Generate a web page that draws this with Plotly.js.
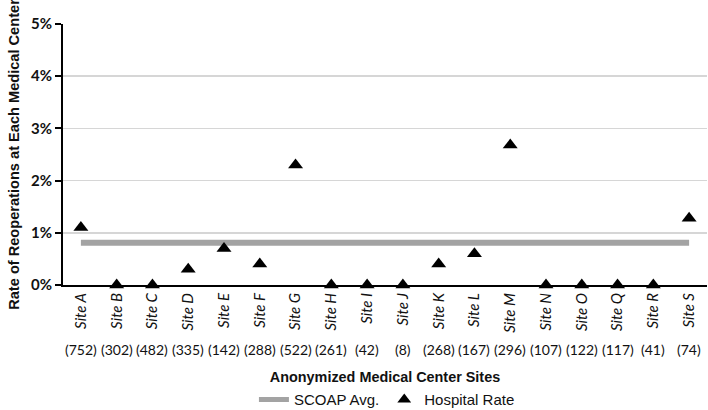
<!DOCTYPE html>
<html>
<head>
<meta charset="utf-8">
<script src="https://cdn.plot.ly/plotly-3.0.1.min.js"></script>
<style>html,body{margin:0;padding:0;background:#fff;}#chart{width:708px;height:410px;}</style>
</head>
<body>
<div id="chart"></div>
<script>
const sites = ["Site A","Site B","Site C","Site D","Site E","Site F","Site G","Site H","Site I","Site J","Site K","Site L","Site M","Site N","Site O","Site Q","Site R","Site S"];
const counts = ["(752)","(302)","(482)","(335)","(142)","(288)","(522)","(261)","(42)","(8)","(268)","(167)","(296)","(107)","(122)","(117)","(41)","(74)"];
const hospitalRate = [1.1, 0, 0, 0.3, 0.7, 0.4, 2.3, 0, 0, 0, 0.4, 0.6, 2.68, 0, 0, 0, 0, 1.28];
const scoapAvg = 0.81;
const yTicks = [0, 1, 2, 3, 4, 5];

const avgTrace = {
  x: sites,
  y: sites.map(() => scoapAvg),
  type: 'scatter',
  mode: 'lines',
  name: 'SCOAP Avg.',
  line: {color: '#a3a3a3', width: 6},
  hoverinfo: 'skip'
};
const rateTrace = {
  x: sites,
  y: hospitalRate,
  type: 'scatter',
  mode: 'markers',
  name: 'Hospital Rate',
  marker: {symbol: 'triangle-up', size: 13, color: '#000'},
  cliponaxis: false
};

const annotations = sites.map((s, i) => ({
  x: s, xref: 'x', y: -0.248, yref: 'paper',
  text: counts[i], showarrow: false,
  xanchor: 'center', yanchor: 'middle',
  font: {family: 'Lato, Carlito, sans-serif', size: 14, color: '#111'}
}));

const layout = {
  width: 708, height: 410,
  margin: {l: 63, r: 1, t: 24, b: 125, autoexpand: false},
  paper_bgcolor: '#fff', plot_bgcolor: '#fff',
  showlegend: true,
  legend: {
    orientation: 'h', x: 0.503, xanchor: 'center', y: -0.44, yanchor: 'middle',
    font: {family: 'Liberation Sans, Arial, sans-serif', size: 15, color: '#111'},
    itemwidth: 30, traceorder: 'normal', itemsizing: 'constant'
  },
  xaxis: {
    type: 'category',
    range: [-0.5, 17.5],
    showline: true, linecolor: '#000', linewidth: 2,
    showgrid: false, ticks: '', tickangle: -90,
    tickfont: {family: 'Lato, Carlito, sans-serif', size: 15, style: 'italic', color: '#111'},
    title: {text: 'Anonymized Medical Center Sites', standoff: 40,
      font: {family: 'Liberation Sans, Arial, sans-serif', size: 14.4, weight: 'bold', color: '#111'}},
    zeroline: false, fixedrange: true, automargin: false
  },
  yaxis: {
    range: [0, 5],
    tickvals: yTicks, ticktext: yTicks.map(v => v + '%'),
    showline: true, linecolor: '#000', linewidth: 2,
    ticks: 'outside', ticklen: 6, tickwidth: 2, tickcolor: '#000',
    showgrid: true, gridcolor: '#d6d6d6', gridwidth: 1.5,
    zeroline: false,
    tickfont: {family: 'Lato, Carlito, sans-serif', size: 15, weight: 'bold', color: '#111'},
    title: {text: 'Rate of Reoperations at Each Medical Center', standoff: 8,
      font: {family: 'Liberation Sans, Arial, sans-serif', size: 14.6, weight: 'bold', color: '#111'}},
    fixedrange: true, automargin: false
  },
  annotations: annotations
};

Plotly.newPlot('chart', [avgTrace, rateTrace], layout, {displayModeBar: false, staticPlot: true});
</script>
</body>
</html>
